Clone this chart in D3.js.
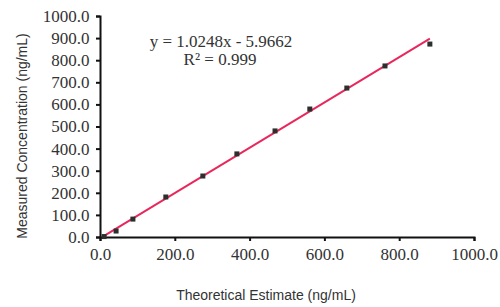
<!DOCTYPE html>
<html><head><meta charset="utf-8">
<script src="https://cdn.jsdelivr.net/npm/d3@7"></script>
<style>body{margin:0;background:#fff}svg{display:block}</style>
</head><body>
<script>
const theoretical = [11, 43, 88, 176, 275, 366, 468, 561, 660, 762, 882];
const measured = [2, 27, 81, 181, 276, 376, 480, 579, 674, 774, 873];
const slope = 1.0248, intercept = -5.9662;
const xTicks = [0, 200, 400, 600, 800, 1000];
const yTicks = [0, 100, 200, 300, 400, 500, 600, 700, 800, 900, 1000];

const W = 500, H = 307;
const svg = d3.select("body").append("svg").attr("width", W).attr("height", H);
const x = d3.scaleLinear().domain([0, 1000]).range([100, 474]);
const y = d3.scaleLinear().domain([0, 1000]).range([237, 16]);
const serif = "'Liberation Serif','DejaVu Serif',serif";
const sans = "'Liberation Sans',Arial,sans-serif";

const xa = svg.append("g").attr("transform", `translate(0,${y(0)})`)
  .call(d3.axisBottom(x).tickValues(xTicks).tickFormat(d3.format(".1f")).tickSize(4).tickSizeOuter(4));
const ya = svg.append("g").attr("transform", `translate(${x(0)},0)`)
  .call(d3.axisLeft(y).tickValues(yTicks).tickFormat(d3.format(".1f")).tickSize(4).tickSizeOuter(4));
[xa, ya].forEach(a => {
  a.select(".domain").attr("stroke", "#111").attr("stroke-width", 2);
  a.selectAll(".tick line").attr("stroke", "#111").attr("stroke-width", 2);
  a.selectAll("text").attr("font-family", serif).attr("font-size", 17).attr("fill", "#333");
});
xa.selectAll("text").attr("dy", "0.95em");
ya.selectAll("text").attr("dx", "-0.2em");

// trendline
const xmin = d3.min(theoretical), xmax = d3.max(theoretical);
svg.append("line")
  .attr("x1", x(xmin)).attr("y1", y(slope * xmin + intercept))
  .attr("x2", x(xmax)).attr("y2", y(slope * xmax + intercept))
  .attr("stroke", "#e8285c").attr("stroke-width", 2);

// points
svg.selectAll("rect.pt").data(theoretical).enter().append("rect")
  .attr("class", "pt")
  .attr("x", (d) => x(d) - 2.5).attr("y", (d, i) => y(measured[i]) - 2.5)
  .attr("width", 5).attr("height", 5).attr("fill", "#2b2f2e");

// equation
svg.append("text").attr("x", 221).attr("y", 47).attr("text-anchor", "middle")
  .attr("font-family", serif).attr("font-size", 17).attr("fill", "#333")
  .text(`y = ${slope}x - ${Math.abs(intercept)}`);
svg.append("text").attr("x", 220).attr("y", 65).attr("text-anchor", "middle")
  .attr("font-family", serif).attr("font-size", 17).attr("fill", "#333")
  .text("R² = 0.999");

// axis titles
svg.append("text").attr("x", 266).attr("y", 300).attr("text-anchor", "middle")
  .attr("font-family", sans).attr("font-size", 14).attr("fill", "#333")
  .text("Theoretical Estimate (ng/mL)");
svg.append("text").attr("transform", "translate(27,136) rotate(-90)").attr("text-anchor", "middle")
  .attr("font-family", sans).attr("font-size", 14).attr("fill", "#333")
  .text("Measured Concentration (ng/mL)");
</script>
</body></html>
